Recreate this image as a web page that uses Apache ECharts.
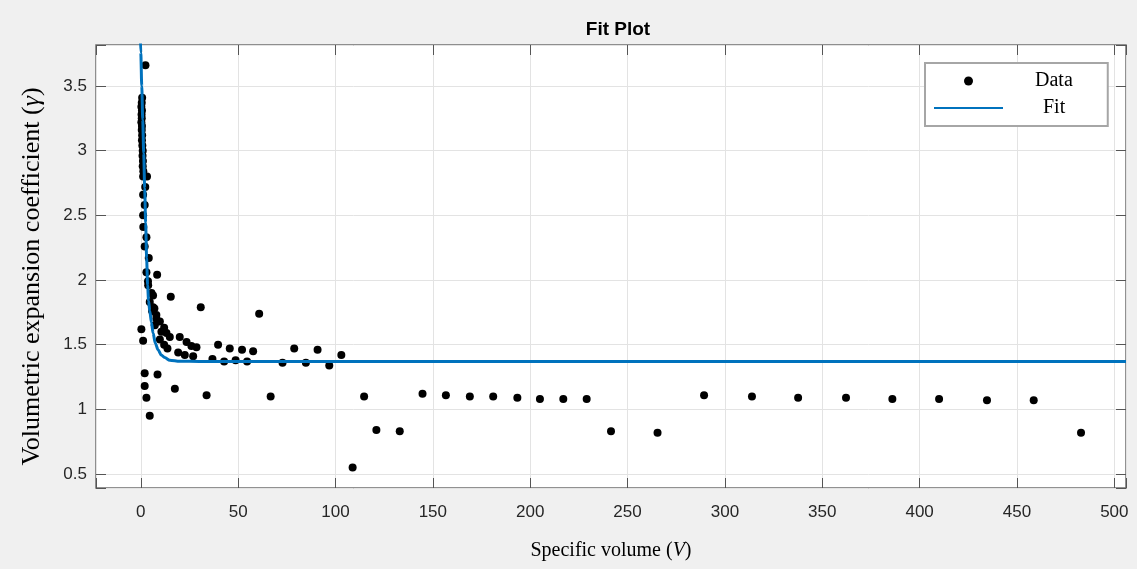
<!DOCTYPE html>
<html>
<head>
<meta charset="utf-8">
<script src="https://cdn.jsdelivr.net/npm/echarts@6/dist/echarts.min.js"></script>
<style>
html,body{margin:0;padding:0;background:#f0f0f0;}
#chart{width:1137px;height:569px;}
</style>
</head>
<body>
<div id="chart"></div>
<script>
// Measured data (specific volume V, expansion coefficient gamma)
const dataV = [
  2.4, 0.7, 0.5, 0.3, 0.6, 0.4, 0.5, 0.3, 0.6, 0.5, 0.7, 0.6, 0.8, 1.0, 0.9, 1.1, 1.0, 1.3, 1.2, 3.2,
  2.3, 1.2, 2.0, 1.2, 1.3, 2.9, 2.0, 4.1, 2.9, 8.4, 3.7, 3.8, 5.5, 6.3, 15.4, 4.6, 6.3, 7.0, 5.8, 8.0,
  9.8, 8.0, 7.2, 12.0, 10.6, 13.2, 14.9, 20.0, 9.8, 23.5, 12.0, 26.0, 28.6, 13.7, 19.2, 22.6, 26.9, 30.8, 0.3, 1.2,
  2.0, 8.6, 2.0, 17.5, 2.9, 33.8, 4.6,
  36.8, 39.7, 42.8, 45.7, 48.7, 52.0, 54.6, 57.7, 60.8, 66.7, 72.8, 78.8, 84.8, 90.8, 96.8, 103.0,
  108.8, 114.7, 121.0, 133.0, 144.7, 156.7, 169.0, 181.0, 193.4, 205.0, 217.0, 229.0,
  241.5, 265.4, 289.3, 313.9, 337.6, 362.2, 386.0, 410.0, 434.6, 458.6, 482.9
];
const dataGamma = [
  3.66, 3.41, 3.37, 3.34, 3.31, 3.28, 3.25, 3.22, 3.19, 3.16, 3.12, 3.08, 3.04, 3.00, 2.96, 2.92, 2.88, 2.84, 2.80, 2.80,
  2.72, 2.66, 2.58, 2.50, 2.41, 2.33, 2.26, 2.17, 2.06, 2.04, 1.99, 1.96, 1.90, 1.88, 1.87, 1.83, 1.79, 1.78, 1.76, 1.73,
  1.68, 1.70, 1.65, 1.63, 1.60, 1.59, 1.56, 1.56, 1.54, 1.52, 1.50, 1.49, 1.48, 1.47, 1.44, 1.42, 1.41, 1.79, 1.62, 1.53,
  1.28, 1.27, 1.18, 1.16, 1.09, 1.11, 0.95,
  1.39, 1.50, 1.37, 1.47, 1.38, 1.46, 1.37, 1.45, 1.74, 1.10, 1.36, 1.47, 1.36, 1.46, 1.34, 1.42,
  0.55, 1.10, 0.84, 0.83, 1.12, 1.11, 1.10, 1.10, 1.09, 1.08, 1.08, 1.08,
  0.83, 0.82, 1.11, 1.10, 1.09, 1.09, 1.08, 1.08, 1.07, 1.07, 0.82
];
// Fit curve, points
const fitV = [-0.3, 0, 0.5, 1.0, 1.5, 2.0, 2.5, 3.0, 3.5, 4.0, 4.6, 5.5, 6.3, 7.5, 8.9, 10.5, 12.3, 14.9, 20, 30, 60, 506];
const fitGamma = [3.92, 3.76, 3.50, 3.24, 2.98, 2.71, 2.44, 2.17, 1.96, 1.84, 1.76, 1.67, 1.59, 1.51, 1.46, 1.42, 1.40, 1.38, 1.372, 1.37, 1.37, 1.37];

const seriesNames = ['Data', 'Fit'];
const titleText = 'Fit Plot';
const xName = 'Specific volume ({i|V})';
const yName = 'Volumetric expansion coefficient ({i|γ})';

const xMin = -23, xMax = 506, yMin = 0.392, yMax = 3.817;

const scatterData = dataV.map((v, i) => [v, dataGamma[i]]);
const fitData = fitV.map((v, i) => [v, fitGamma[i]]);

const sans = 'Liberation Sans, Arial, Helvetica, sans-serif';
const serif = 'Liberation Serif, Times New Roman, serif';

function xFmt(v) { return Math.abs(v / 50 - Math.round(v / 50)) < 1e-6 ? String(Math.round(v)) : ''; }
function yFmt(v) { return Math.abs(v / 0.5 - Math.round(v / 0.5)) < 1e-6 ? String(Math.round(v * 10) / 10) : ''; }

const tickStyle = { show: true, inside: true, length: 10, lineStyle: { color: '#555', width: 1 } };
const noLine = { show: false, onZero: false };

const chart = echarts.init(document.getElementById('chart'), null, { renderer: 'canvas' });
chart.setOption({
  animation: false,
  backgroundColor: '#f0f0f0',
  title: {
    text: titleText,
    left: 613, top: 15, textAlign: 'center',
    textStyle: { fontFamily: sans, fontWeight: 'bold', fontSize: 19, color: '#000' }
  },
  grid: {
    left: 96, right: 11, top: 45, bottom: 81,
    show: true, backgroundColor: '#ffffff', borderColor: '#6e6e6e', borderWidth: 1.5
  },
  legend: {
    orient: 'vertical', left: 925, top: 63,
    padding: [8, 35, 8, 8], itemGap: 7, itemWidth: 69, itemHeight: 9,
    backgroundColor: '#ffffff', borderColor: '#a6a6a6', borderWidth: 2,
    textStyle: { fontFamily: serif, fontSize: 20, color: '#000' },
    data: [
      { name: seriesNames[0], textStyle: { padding: [0, 0, 0, 27] } },
      { name: seriesNames[1], textStyle: { padding: [0, 0, 0, 35] },
        itemStyle: { color: 'rgba(0,0,0,0)', borderWidth: 0, borderColor: 'rgba(0,0,0,0)' } }
    ]
  },
  xAxis: [{
    type: 'value', min: xMin, max: xMax, splitNumber: 10,
    position: 'bottom',
    name: xName, nameLocation: 'middle', nameGap: 53,
    nameTextStyle: { fontFamily: serif, fontSize: 20, color: '#000',
      rich: { i: { fontFamily: serif, fontSize: 20, fontStyle: 'italic', color: '#000' } } },
    axisLine: noLine,
    axisTick: tickStyle,
    axisLabel: { formatter: xFmt, margin: 16, fontFamily: sans, fontSize: 17, color: '#262626' },
    splitLine: { show: true, lineStyle: { color: '#e3e3e3', width: 1 } }
  }, {
    type: 'value', min: xMin, max: xMax, splitNumber: 10,
    position: 'top',
    axisLine: noLine, axisTick: tickStyle,
    axisLabel: { show: false }, splitLine: { show: false }
  }],
  yAxis: [{
    type: 'value', min: yMin, max: yMax, splitNumber: 7,
    position: 'left',
    name: yName, nameLocation: 'middle', nameGap: 51, nameRotate: 90,
    nameTextStyle: { fontFamily: serif, fontSize: 26, color: '#000', padding: [0, 20, 0, 0],
      rich: { i: { fontFamily: serif, fontSize: 26, fontStyle: 'italic', color: '#000' } } },
    axisLine: noLine,
    axisTick: tickStyle,
    axisLabel: { formatter: yFmt, margin: 9, fontFamily: sans, fontSize: 17, color: '#262626' },
    splitLine: { show: true, lineStyle: { color: '#e3e3e3', width: 1 } }
  }, {
    type: 'value', min: yMin, max: yMax, splitNumber: 7,
    position: 'right',
    axisLine: noLine, axisTick: tickStyle,
    axisLabel: { show: false }, splitLine: { show: false }
  }],
  series: [{
    name: seriesNames[0], type: 'scatter', xAxisIndex: 0, yAxisIndex: 0,
    data: scatterData, symbol: 'circle', symbolSize: 8,
    itemStyle: { color: '#000000', opacity: 1 }
  }, {
    name: seriesNames[1], type: 'line', xAxisIndex: 0, yAxisIndex: 0,
    data: fitData, symbol: 'none', showSymbol: false, smooth: 0.3, smoothMonotone: 'x',
    lineStyle: { color: '#0072BD', width: 3 },
    clip: true
  }]
});
</script>
</body>
</html>
